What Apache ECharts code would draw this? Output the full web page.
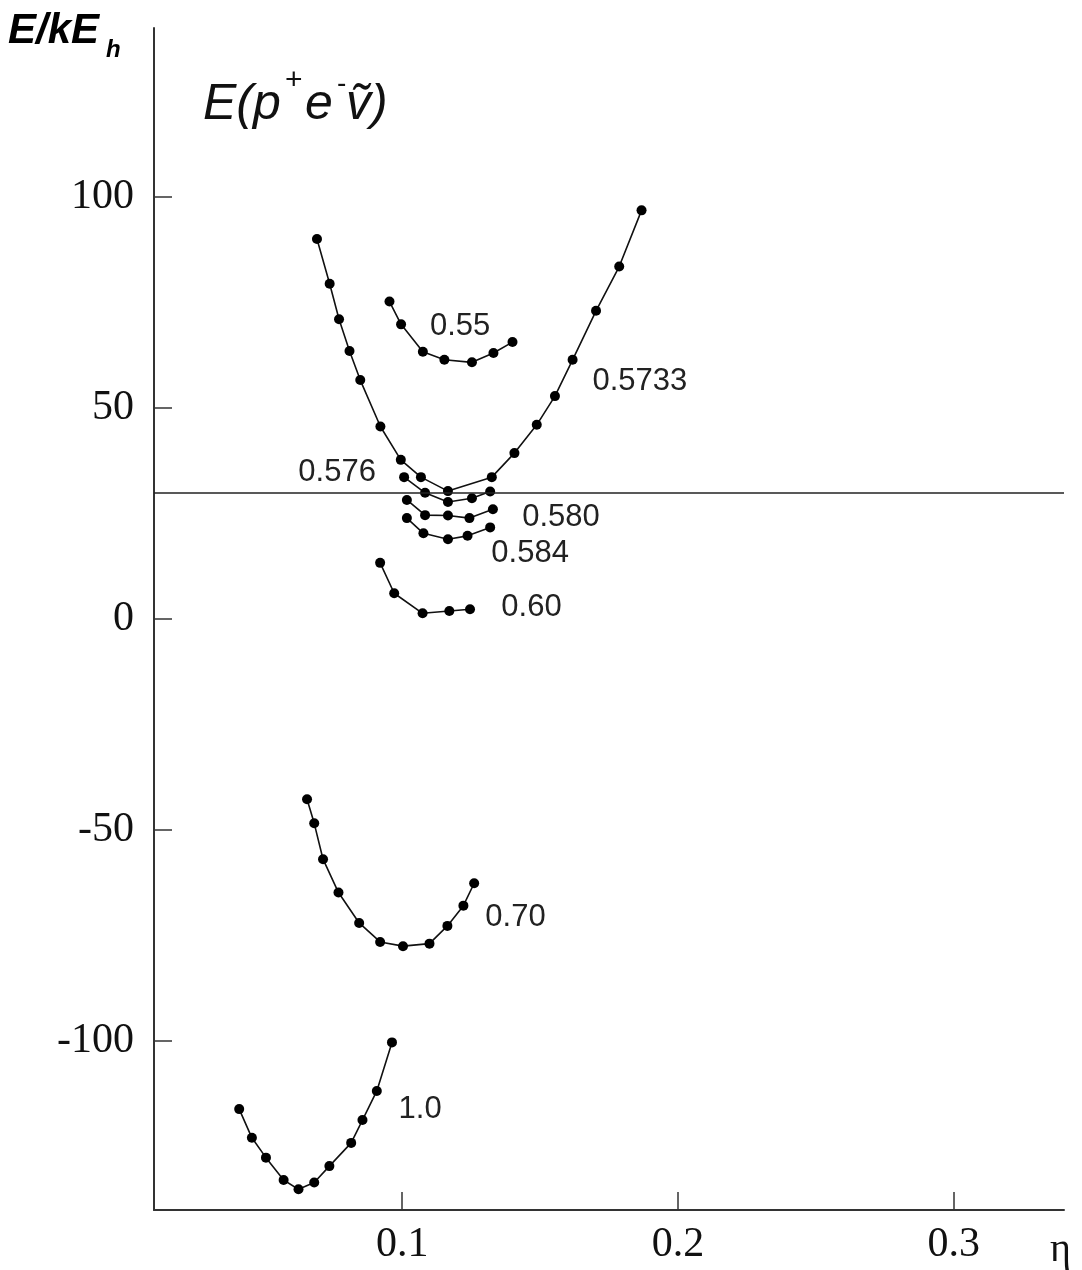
<!DOCTYPE html>
<html>
<head>
<meta charset="utf-8">
<script src="https://cdn.jsdelivr.net/npm/echarts@6/dist/echarts.min.js"></script>
<style>
html, body { margin: 0; padding: 0; background: #fff; }
#chart { width: 1082px; height: 1270px; }
</style>
</head>
<body>
<div id="chart"></div>
<script>
// curves E(eta) for several values of the parameter
var curveNames = ['0.55', '0.5733', '0.576', '0.580', '0.584', '0.60', '0.70', '1.0'];

var eta055 = [0.0954, 0.0996, 0.1075, 0.1153, 0.1253, 0.1331, 0.1400];
var e055 = [75.2, 69.8, 63.3, 61.4, 60.8, 63.0, 65.6];

var eta05733 = [0.0691, 0.0737, 0.0771, 0.0809, 0.0848, 0.0921, 0.0995, 0.1068, 0.1166, 0.1325, 0.1407, 0.1488, 0.1554, 0.1618, 0.1703, 0.1787, 0.1868];
var e05733 = [90.0, 79.4, 71.0, 63.5, 56.6, 45.6, 37.7, 33.6, 30.3, 33.6, 39.3, 46.0, 52.8, 61.4, 73.0, 83.5, 96.8];

var eta0576 = [0.1007, 0.1083, 0.1166, 0.1253, 0.1319];
var e0576 = [33.6, 29.9, 27.7, 28.6, 30.2];

var eta0580 = [0.1017, 0.1083, 0.1166, 0.1244, 0.1329];
var e0580 = [28.2, 24.6, 24.5, 23.9, 26.0];

var eta0584 = [0.1017, 0.1077, 0.1166, 0.1237, 0.1319];
var e0584 = [23.9, 20.3, 18.9, 19.7, 21.7];

var eta060 = [0.0920, 0.0971, 0.1074, 0.1171, 0.1246];
var e060 = [13.3, 6.1, 1.35, 1.9, 2.3];

var eta070 = [0.0655, 0.0681, 0.0713, 0.0769, 0.0844, 0.0920, 0.1003, 0.1099, 0.1164, 0.1222, 0.1261];
var e070 = [-42.7, -48.4, -56.9, -64.8, -72.0, -76.5, -77.5, -76.9, -72.7, -67.9, -62.6];

var eta10 = [0.0409, 0.0455, 0.0506, 0.0570, 0.0624, 0.0681, 0.0736, 0.0815, 0.0856, 0.0908, 0.0963];
var e10 = [-116.1, -122.9, -127.6, -132.9, -135.1, -133.5, -129.6, -124.1, -118.7, -111.8, -100.3];

// where each curve's name is written (data coords)
var labelEta = [0.1210, 0.1862, 0.0764, 0.1576, 0.1464, 0.1469, 0.1411, 0.1065];
var labelE = [69.2, 56.3, 34.6, 24.0, 15.6, 2.8, -70.6, -116.1];

var refLevel = 30;
var xTicks = [0.1, 0.2, 0.3];
var yTicks = [-100, -50, 0, 50, 100];

var etaList = [eta055, eta05733, eta0576, eta0580, eta0584, eta060, eta070, eta10];
var eList = [e055, e05733, e0576, e0580, e0584, e060, e070, e10];

var chart = echarts.init(document.getElementById('chart'), null, { renderer: 'canvas' });

var series = [];
for (var i = 0; i < curveNames.length; i++) {
	var pts = [];
	for (var j = 0; j < etaList[i].length; j++) {
		pts.push([etaList[i][j], eList[i][j]]);
	}
	var s = {
		name: curveNames[i],
		type: 'line',
		data: pts,
		symbol: 'circle',
		symbolSize: 10,
		showSymbol: true,
		lineStyle: { color: '#111', width: 1.6 },
		itemStyle: { color: '#000' },
		markPoint: {
			symbol: 'circle',
			symbolSize: 0,
			silent: true,
			label: {
				show: true,
				position: 'inside',
				formatter: curveNames[i],
				fontFamily: 'Liberation Sans',
				fontSize: 31,
				color: '#222'
			},
			data: [{ coord: [labelEta[i], labelE[i]] }]
		}
	};
	if (i === 0) {
		s.markLine = {
			silent: true,
			symbol: ['none', 'none'],
			label: { show: false },
			lineStyle: { color: '#222', width: 1.6, type: 'solid' },
			data: [{ yAxis: refLevel }]
		};
	}
	series.push(s);
}

var option = {
	animation: false,
	backgroundColor: '#fff',
	grid: { left: 154, right: 18, top: 28, bottom: 60, containLabel: false },
	xAxis: {
		type: 'value',
		min: 0.01,
		max: 0.34,
		splitLine: { show: false },
		axisLine: { onZero: false, lineStyle: { color: '#333', width: 2 } },
		axisTick: { inside: true, length: 18, customValues: xTicks, lineStyle: { color: '#333', width: 1.5 } },
		axisLabel: {
			customValues: xTicks,
			margin: 14,
			fontFamily: 'Liberation Serif',
			fontSize: 42,
			color: '#111'
		}
	},
	yAxis: {
		type: 'value',
		min: -140,
		max: 140,
		splitLine: { show: false },
		axisLine: { onZero: false, lineStyle: { color: '#333', width: 2 } },
		axisTick: { inside: true, length: 18, customValues: yTicks, lineStyle: { color: '#333', width: 1.5 } },
		axisLabel: {
			customValues: yTicks,
			margin: 20,
			fontFamily: 'Liberation Serif',
			fontSize: 42,
			color: '#111'
		}
	},
	graphic: [
		{ type: 'text', left: 8, top: 10, style: { text: 'E/kE', font: 'italic bold 42px "Liberation Sans"', fill: '#000' } },
		{ type: 'text', left: 106, top: 38, style: { text: 'h', font: 'italic bold 24px "Liberation Sans"', fill: '#000' } },
		{ type: 'text', left: 203, top: 80, style: { text: 'E(p', font: 'italic 50px "Liberation Sans"', fill: '#111' } },
		{ type: 'text', left: 285, top: 66, style: { text: '+', font: '30px "Liberation Sans"', fill: '#111' } },
		{ type: 'text', left: 305, top: 80, style: { text: 'e', font: 'italic 50px "Liberation Sans"', fill: '#111' } },
		{ type: 'text', left: 337, top: 70, style: { text: '-', font: '28px "Liberation Sans"', fill: '#111' } },
		{ type: 'text', left: 346, top: 80, style: { text: 'ṽ)', font: 'italic 50px "Liberation Sans", "DejaVu Sans"', fill: '#111' } },
		{ type: 'text', left: 1050, top: 1230, style: { text: 'η', font: '40px "Liberation Serif", "DejaVu Serif"', fill: '#111' } }
	],
	series: series
};
chart.setOption(option);
</script>
</body>
</html>
